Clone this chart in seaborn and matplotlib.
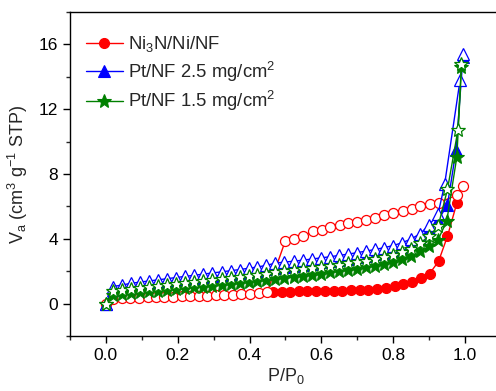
import numpy as np
import pandas as pd
import matplotlib
matplotlib.use("Agg")
import matplotlib.pyplot as plt
import seaborn as sns
from matplotlib.ticker import MultipleLocator

# ---------------- data ----------------
grid = [0.020, 0.045, 0.070, 0.095, 0.121, 0.146, 0.171, 0.196, 0.221, 0.246,
        0.271, 0.296, 0.322, 0.347, 0.372, 0.397, 0.422, 0.447, 0.472, 0.497,
        0.523, 0.548, 0.573, 0.598, 0.623, 0.648, 0.673, 0.698, 0.724, 0.749,
        0.774, 0.799, 0.824, 0.849, 0.874, 0.900, 0.925]

# Ni3N/Ni/NF
ni_open_x = [0.0, 0.020, 0.044, 0.068, 0.092, 0.116, 0.140, 0.163, 0.187, 0.211,
             0.235, 0.258, 0.282, 0.306, 0.330, 0.354, 0.377, 0.401, 0.425, 0.449,
             0.499, 0.525, 0.550, 0.577, 0.601, 0.624, 0.652, 0.675, 0.698, 0.724,
             0.749, 0.775, 0.800, 0.826, 0.851, 0.875, 0.902, 0.926, 0.977, 0.995]
ni_open_y = [0.0, 0.30, 0.33, 0.35, 0.37, 0.39, 0.40, 0.42, 0.43, 0.45,
             0.46, 0.48, 0.50, 0.52, 0.54, 0.56, 0.59, 0.62, 0.66, 0.70,
             3.84, 4.01, 4.16, 4.47, 4.57, 4.71, 4.84, 4.98, 5.04, 5.19,
             5.29, 5.46, 5.60, 5.71, 5.81, 6.02, 6.12, 6.22, 6.70, 7.27]
ni_fill_x = [0.464, 0.489, 0.513, 0.537, 0.561, 0.586, 0.610, 0.634, 0.658, 0.683,
             0.707, 0.731, 0.755, 0.780, 0.804, 0.828, 0.852, 0.877, 0.901, 0.926,
             0.951, 0.977]
ni_fill_y = [0.72, 0.73, 0.74, 0.75, 0.76, 0.77, 0.78, 0.79, 0.80, 0.82,
             0.84, 0.87, 0.92, 0.98, 1.08, 1.18, 1.33, 1.55, 1.85, 2.60,
             4.16, 6.20]

# Pt/NF 2.5 mg/cm2
pt25_open_x = [0.0] + grid + [0.943, 0.986, 0.994]
pt25_open_y = [0.0, 1.05, 1.15, 1.25, 1.33, 1.40, 1.47, 1.54, 1.61, 1.68, 1.75,
               1.82, 1.89, 1.96, 2.03, 2.10, 2.18, 2.26, 2.36, 2.50, 2.56,
               2.62, 2.68, 2.75, 2.82, 2.89, 2.97, 3.05, 3.14, 3.24, 3.34,
               3.45, 3.58, 3.75, 3.98, 4.30, 4.85, 5.55, 7.36, 13.8, 15.4]
pt25_fill_x = [0.0] + grid + [0.951, 0.975, 0.994]
pt25_fill_y = [0.0, 0.85, 0.95, 1.04, 1.12, 1.19, 1.26, 1.33, 1.40, 1.47, 1.54,
               1.61, 1.68, 1.75, 1.82, 1.89, 1.96, 2.04, 2.13, 2.22, 2.29,
               2.35, 2.41, 2.47, 2.54, 2.61, 2.68, 2.76, 2.85, 2.94, 3.04,
               3.15, 3.28, 3.44, 3.65, 3.98, 4.60, 5.15, 6.10, 9.50, 15.2]

# Pt/NF 1.5 mg/cm2
pt15_open_x = [0.0] + grid + [0.951, 0.980, 0.990]
pt15_open_y = [0.0, 0.75, 0.83, 0.90, 0.96, 1.02, 1.08, 1.14, 1.20, 1.26, 1.32,
               1.38, 1.44, 1.50, 1.56, 1.62, 1.69, 1.76, 1.84, 1.95, 2.02,
               2.08, 2.14, 2.20, 2.27, 2.34, 2.41, 2.49, 2.57, 2.66, 2.76,
               2.87, 3.00, 3.17, 3.40, 3.72, 4.16, 4.78, 7.05, 10.7, 14.8]
pt15_fill_x = [0.0] + grid + [0.949, 0.977, 0.990]
pt15_fill_y = [0.0, 0.55, 0.60, 0.65, 0.70, 0.75, 0.80, 0.85, 0.90, 0.95, 1.00,
               1.05, 1.10, 1.15, 1.20, 1.26, 1.32, 1.38, 1.45, 1.53, 1.60,
               1.66, 1.72, 1.78, 1.85, 1.92, 1.99, 2.07, 2.15, 2.24, 2.34,
               2.45, 2.58, 2.74, 2.95, 3.22, 3.53, 3.95, 5.10, 9.05, 14.6]

labels = ["Ni$_3$N/Ni/NF", "Pt/NF 2.5 mg/cm$^2$", "Pt/NF 1.5 mg/cm$^2$"]
xticks = [0.0, 0.2, 0.4, 0.6, 0.8, 1.0]
yticks = [0, 4, 8, 12, 16]

# ---------------- style ----------------
sns.set_style("ticks")
plt.rcParams['font.family'] = ['Liberation Sans', 'DejaVu Sans']
plt.rcParams['mathtext.fontset'] = 'custom'
plt.rcParams['mathtext.rm'] = 'Liberation Sans'
plt.rcParams['mathtext.it'] = 'Liberation Sans'
plt.rcParams['mathtext.default'] = 'regular'

fig = plt.figure(figsize=(4.96, 3.91), dpi=100)
ax = fig.add_axes([70/496, 1-336/391, 431/496, 324/391])

series = [
    (ni_fill_x, ni_fill_y, ni_open_x, ni_open_y, "red", "o", 7.2, labels[0]),
    (pt25_fill_x, pt25_fill_y, pt25_open_x, pt25_open_y, "blue", "^", 8.5, labels[1]),
    (pt15_fill_x, pt15_fill_y, pt15_open_x, pt15_open_y, "green", "*", 10.5, labels[2]),
]

for fx, fy, ox, oy, col, mk, ms, lab in series:
    dff = pd.DataFrame({"x": fx, "y": fy})
    dfo = pd.DataFrame({"x": ox, "y": oy})
    sns.lineplot(data=dff, x="x", y="y", ax=ax, sort=False, estimator=None,
                 color=col, lw=1.0, marker=mk, markersize=ms,
                 markerfacecolor=col, markeredgecolor=col, markeredgewidth=0.8,
                 label=lab)
    sns.lineplot(data=dfo, x="x", y="y", ax=ax, sort=False, estimator=None,
                 color=col, lw=1.0, marker=mk, markersize=ms,
                 markerfacecolor="white", markeredgecolor=col, markeredgewidth=0.9,
                 label="_nolegend_")

ax.set_xlim(-0.1, 1.1)
ax.set_ylim(-2, 18)
ax.set_xticks(xticks)
ax.set_xticklabels([f"{v:.1f}" for v in xticks])
ax.set_yticks(yticks)
ax.xaxis.set_minor_locator(MultipleLocator(0.1))
ax.yaxis.set_minor_locator(MultipleLocator(2))
ax.tick_params(which='major', direction='out', length=5, width=1, labelsize=12.5,
               colors='black')
ax.tick_params(which='minor', direction='out', length=3, width=1)
ax.tick_params(top=False, right=False)
for s in ax.spines.values():
    s.set_linewidth(1.0)
    s.set_color('black')

ax.set_xlabel("P/P$_0$", fontsize=13, labelpad=2)
ax.set_ylabel("V$_a$ (cm$^3$ g$^{-1}$ STP)", fontsize=13, labelpad=6)

leg = ax.legend(loc='upper left', bbox_to_anchor=(16/431, (336-34)/324),
                frameon=False, fontsize=13.3, handlelength=2.0,
                handletextpad=0.25, labelspacing=0.3,
                borderaxespad=0.0, borderpad=0.0)

fig.savefig("out.png", dpi=100)
